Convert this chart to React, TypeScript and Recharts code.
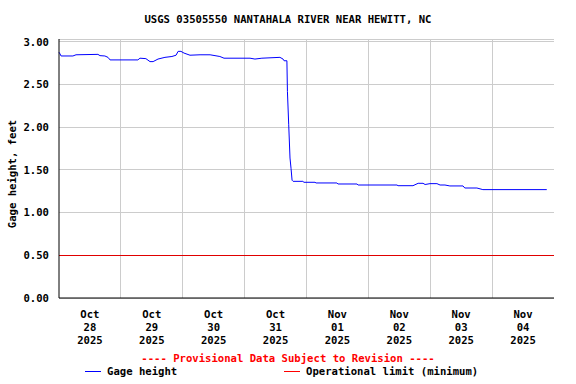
import {
  LineChart,
  Line,
  CartesianGrid,
  XAxis,
  YAxis,
  ReferenceLine,
} from "recharts";

// USGS gage height, 8 days from Oct 28 00:00 (hours since start).
const hours = [
  0, 0.4, 0.8, 5.4, 6.6, 15.1, 15.9, 17.8, 19, 19.8, 30.6, 31.4, 33.7, 35.3,
  36.5, 38.4, 41.1, 43.8, 45.4, 46.2, 47.3, 48.5, 50.8, 54.7, 58.6, 62.4, 64,
  74.1, 76, 78.7, 85.7, 86.9, 87.3, 88.4, 88.6, 89.1, 89.6, 90, 90.4, 90.8,
  94.6, 95, 99.3, 99.7, 107.8, 108.2, 115.6, 116, 131.1, 131.5, 137.3, 139.3,
  141.2, 142, 143.9, 146.6, 147.8, 149.7, 151.6, 156.7, 157.4, 162.1, 164.4,
  189.2,
];
const gageHeight = [
  2.88, 2.86, 2.836, 2.836, 2.85, 2.855, 2.84, 2.836, 2.82, 2.79, 2.79, 2.81,
  2.805, 2.77, 2.77, 2.8, 2.82, 2.83, 2.845, 2.89, 2.89, 2.87, 2.845, 2.85,
  2.85, 2.83, 2.81, 2.81, 2.8, 2.81, 2.82, 2.8, 2.78, 2.78, 2.42, 2.03, 1.64,
  1.52, 1.38, 1.367, 1.367, 1.356, 1.356, 1.348, 1.348, 1.336, 1.336, 1.324,
  1.324, 1.316, 1.316, 1.344, 1.344, 1.33, 1.34, 1.34, 1.324, 1.324, 1.313,
  1.313, 1.289, 1.289, 1.27, 1.27,
];
const operationalLimit = 0.5;

const dayTicks = [12, 36, 60, 84, 108, 132, 156, 180];
const dayLabels = [
  ["Oct", "28", "2025"],
  ["Oct", "29", "2025"],
  ["Oct", "30", "2025"],
  ["Oct", "31", "2025"],
  ["Nov", "01", "2025"],
  ["Nov", "02", "2025"],
  ["Nov", "03", "2025"],
  ["Nov", "04", "2025"],
];
const dayBounds = [24, 48, 72, 96, 120, 144, 168];
const yTicks = [0, 0.5, 1, 1.5, 2, 2.5, 3];

const data = hours.map((h, i) => ({ h, gage: gageHeight[i] }));

const FONT = "'DejaVu Sans Mono', monospace";

function DayTick(props: any) {
  const { x, y, index } = props;
  const lines = dayLabels[index] || [];
  return (
    <g>
      {lines.map((s: string, i: number) => (
        <text
          key={i}
          x={x}
          y={y + 12 + i * 13}
          textAnchor="middle"
          fontFamily={FONT}
          fontWeight="bold"
          fontSize={10.6}
          fill="#000"
        >
          {s}
        </text>
      ))}
    </g>
  );
}

function YLabel() {
  return (
    <text
      x={12}
      y={174}
      transform="rotate(-90 12 174)"
      textAnchor="middle"
      dominantBaseline="central"
      fontFamily={FONT}
      fontWeight="bold"
      fontSize={10.6}
      fill="#000"
    >
      Gage height, feet
    </text>
  );
}

function LegendItem({ left, color, text }: { left: number; color: string; text: string }) {
  return (
    <div style={{ position: "absolute", top: 365, left, display: "flex", alignItems: "center" }}>
      <svg width={16} height={3} style={{ marginRight: 6 }}>
        <rect x={0} y={1} width={16} height={1} fill={color} shapeRendering="crispEdges" />
      </svg>
      <span>{text}</span>
    </div>
  );
}

export default function App() {
  return (
    <div
      style={{
        position: "relative",
        width: 576,
        height: 384,
        background: "#fff",
        fontFamily: FONT,
        fontWeight: "bold",
        fontSize: 10.6,
      }}
    >
      <style>{`body{margin:0}`}</style>
      <div
        style={{
          position: "absolute",
          top: 13,
          left: 0,
          width: 576,
          textAlign: "center",
        }}
      >
        USGS 03505550 NANTAHALA RIVER NEAR HEWITT, NC
      </div>
      <LineChart
        width={576}
        height={384}
        data={data}
        margin={{ top: 39, right: 22, bottom: 56, left: 0 }}
      >
        <CartesianGrid stroke="#cccccc" vertical={false} shapeRendering="crispEdges" />
        {dayBounds.map((d) => (
          <ReferenceLine key={d} x={d} stroke="#cccccc" shapeRendering="crispEdges" />
        ))}
        <ReferenceLine y={operationalLimit} stroke="#e00000" shapeRendering="crispEdges" />
        <XAxis
          dataKey="h"
          type="number"
          domain={[0, 192]}
          ticks={dayTicks}
          interval={0}
          tickLine={false}
          axisLine={{ stroke: "#000" }}
          tick={<DayTick />}
        />
        <XAxis
          xAxisId="top"
          orientation="top"
          dataKey="h"
          type="number"
          domain={[0, 192]}
          tick={false}
          tickLine={false}
          axisLine={{ stroke: "#000" }}
          height={0}
        />
        <YAxis
          type="number"
          domain={[0, 3.035]}
          ticks={yTicks}
          width={59}
          tickLine={false}
          axisLine={{ stroke: "#000" }}
          tickFormatter={(v: number) => v.toFixed(2)}
          tick={{
            fill: "#000",
            fontFamily: FONT,
            fontWeight: "bold",
            fontSize: 10.6,
            dx: -2,
          }}
          label={<YLabel />}
        />
        <YAxis
          yAxisId="right"
          orientation="right"
          domain={[0, 3.035]}
          tick={false}
          tickLine={false}
          axisLine={{ stroke: "#000" }}
          width={0}
        />
        <Line
          dataKey="gage"
          type="linear"
          stroke="#0000ff"
          strokeWidth={1}
          dot={false}
          isAnimationActive={false}
        />
      </LineChart>
      <div
        style={{
          position: "absolute",
          top: 352,
          left: 0,
          width: 576,
          textAlign: "center",
          color: "#ff0000",
        }}
      >
        ---- Provisional Data Subject to Revision ----
      </div>
      <LegendItem left={85} color="#0000ff" text="Gage height" />
      <LegendItem left={284} color="#ff0000" text="Operational limit (minimum)" />
    </div>
  );
}
